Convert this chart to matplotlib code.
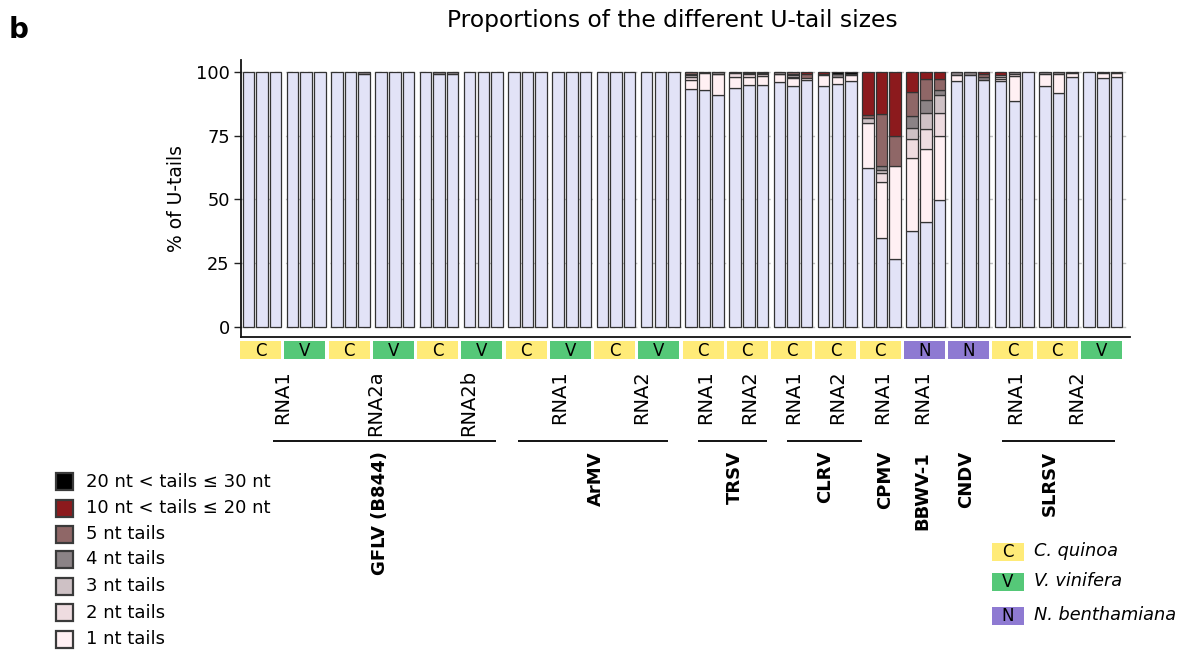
import matplotlib
matplotlib.use('Agg')
import matplotlib.pyplot as plt
import matplotlib.transforms as mtransforms
from matplotlib.patches import Rectangle
import numpy as np

plt.rcParams['font.family'] = ['DejaVu Sans']

# ---------------- data ----------------
title = 'Proportions of the different U-tail sizes'
ylabel = '% of U-tails'
yticks = [0, 25, 50, 75, 100]

# one entry per sample group (3 replicate bars per group)
hosts = ['C', 'V', 'C', 'V', 'C', 'V', 'C', 'V', 'C', 'V',
         'C', 'C', 'C', 'C', 'C', 'N', 'N', 'C', 'C', 'V']

series_names = ['0 nt', '1 nt tails', '2 nt tails', '3 nt tails', '4 nt tails',
                '5 nt tails', '10 nt < tails \u2264 20 nt', '20 nt < tails \u2264 30 nt']

u0 = [100, 100, 100,  100, 100, 100,  100, 100, 99.3,  100, 100, 100,
      100, 99.5, 99.2,  100, 100, 100,  100, 100, 100,  100, 100, 100,
      100, 100, 100,  100, 100, 100,  93.4, 93.0, 91.0,  93.7, 95.0, 95.0,
      96.4, 94.7, 97.1,  94.5, 95.4, 96.8,  62.5, 34.8, 26.6,  37.5, 41.2, 49.7,
      96.8, 98.9, 97.1,  96.8, 88.8, 100,  94.5, 92.1, 98.4,  100, 97.9, 98.2]
u1 = [0, 0, 0,  0, 0, 0,  0, 0, 0,  0, 0, 0,
      0, 0, 0,  0, 0, 0,  0, 0, 0,  0, 0, 0,
      0, 0, 0,  0, 0, 0,  3.7, 6.8, 8.3,  4.7, 3.4, 3.7,
      2.8, 3.2, 0.9,  4.5, 2.8, 2.1,  17.5, 22.1, 36.6,  28.7, 28.8, 25.3,
      2.1, 0, 0,  0.8, 9.9, 0,  4.7, 7.1, 1.3,  0, 1.8, 1.6]
u2 = [0, 0, 0,  0, 0, 0,  0, 0, 0,  0, 0, 0,
      0, 0, 0,  0, 0, 0,  0, 0, 0,  0, 0, 0,
      0, 0, 0,  0, 0, 0,  1.3, 0.2, 0.2,  1.2, 0.8, 0.7,
      0.3, 0.5, 0,  0.5, 0, 0,  0, 3.6, 0,  7.6, 7.9, 9.2,
      0, 0, 0,  0.8, 0.7, 0,  0, 0, 0,  0, 0, 0]
u3 = [0, 0, 0,  0, 0, 0,  0, 0, 0,  0, 0, 0,
      0, 0, 0,  0, 0, 0,  0, 0, 0,  0, 0, 0,
      0, 0, 0,  0, 0, 0,  0.6, 0, 0,  0, 0, 0,
      0, 0.5, 0,  0, 0, 0,  2.1, 1.0, 0,  4.2, 6.1, 7.1,
      0, 0, 0,  0.6, 0, 0,  0, 0, 0,  0, 0, 0]
u4 = [0, 0, 0,  0, 0, 0,  0, 0, 0.7,  0, 0, 0,
      0, 0.5, 0.8,  0, 0, 0,  0, 0, 0,  0, 0, 0,
      0, 0, 0,  0, 0, 0,  0.5, 0, 0.5,  0.4, 0.4, 0.3,
      0.5, 0.5, 0,  0, 1.0, 0.5,  0, 1.6, 0,  4.7, 5.0, 1.8,
      1.1, 1.1, 1.3,  0, 0.6, 0,  0.8, 0.8, 0.3,  0, 0.3, 0.2]
u5 = [0, 0, 0,  0, 0, 0,  0, 0, 0,  0, 0, 0,
      0, 0, 0,  0, 0, 0,  0, 0, 0,  0, 0, 0,
      0, 0, 0,  0, 0, 0,  0.5, 0, 0,  0, 0.4, 0.3,
      0, 0.6, 1.2,  0, 0, 0,  1.1, 20.7, 11.8,  9.7, 8.4, 4.5,
      0, 0, 1.0,  0, 0, 0,  0, 0, 0,  0, 0, 0]
u10 = [0, 0, 0,  0, 0, 0,  0, 0, 0,  0, 0, 0,
       0, 0, 0,  0, 0, 0,  0, 0, 0,  0, 0, 0,
       0, 0, 0,  0, 0, 0,  0, 0, 0,  0, 0, 0,
       0, 0, 0.8,  0.5, 0, 0,  16.8, 16.2, 25.0,  7.6, 2.6, 2.4,
       0, 0, 0.6,  1.0, 0, 0,  0, 0, 0,  0, 0, 0]
u20 = [0, 0, 0,  0, 0, 0,  0, 0, 0,  0, 0, 0,
       0, 0, 0,  0, 0, 0,  0, 0, 0,  0, 0, 0,
       0, 0, 0,  0, 0, 0,  0, 0, 0,  0, 0, 0,
       0, 0, 0,  0, 0.8, 0.6,  0, 0, 0,  0, 0, 0,
       0, 0, 0,  0, 0, 0,  0, 0, 0,  0, 0, 0]

# RNA segment labels: (text, group position)
rna_labels = [('RNA1', 0.5), ('RNA2a', 2.6), ('RNA2b', 4.7),
              ('RNA1', 6.75), ('RNA2', 8.6),
              ('RNA1', 10.05), ('RNA2', 11.05),
              ('RNA1', 12.05), ('RNA2', 13.05),
              ('RNA1', 14.05), ('RNA1', 14.95),
              ('RNA1', 17.05), ('RNA2', 18.45)]
# virus names: (text, group position)
virus_labels = [('GFLV (B844)', 2.7), ('ArMV', 7.58), ('TRSV', 10.71), ('CLRV', 12.75),
                ('CPMV', 14.11), ('BBWV-1', 14.96), ('CNDV', 15.94), ('SLRSV', 17.84)]
# bracket lines under RNA labels: (start, end) in group units
virus_lines = [(0.28, 5.33), (5.82, 9.2), (9.89, 11.44), (11.9, 13.59), (16.75, 19.3)]

host_names = {'C': 'C. quinoa', 'V': 'V. vinifera', 'N': 'N. benthamiana'}

# ---------------- styles ----------------
series_colors = ['#E2E3F7', '#FFF0F3', '#EEDCE0', '#CEC1C5', '#8B8386',
                 '#8F6767', '#8C1A1D', '#000000']
host_colors = {'C': '#FFEB78', 'V': '#55C878', 'N': '#8E7AD2'}

W, H = 1185, 650
fig = plt.figure(figsize=(W / 100, H / 100), dpi=100)

ov = fig.add_axes([0, 0, 1, 1])
ov.set_xlim(0, W)
ov.set_ylim(H, 0)
ov.axis('off')

ax = fig.add_axes([240.7 / W, 1 - 336.7 / H, (1130 - 240.7) / W, (336.7 - 60) / H])

n_groups = len(hosts)
offsets = np.array([-0.276, 0.034, 0.339])
x = (np.repeat(np.arange(n_groups), 3) + np.tile(offsets, n_groups))
bar_w = 0.26

series = [u0, u1, u2, u3, u4, u5, u10, u20]
bottom = np.zeros(len(x))
for vals, col in zip(series, series_colors):
    v = np.asarray(vals, dtype=float)
    m = v > 0
    ax.bar(x[m], v[m], bottom=bottom[m], width=bar_w, color=col,
           edgecolor='#333333', linewidth=0.9, zorder=3)
    bottom += v

ax.set_xlim(-0.447, 19.645)
ax.set_ylim(-4.0, 104.9)
ax.set_yticks(yticks)
ax.set_yticklabels([str(t) for t in yticks], fontsize=12.8)
ax.tick_params(axis='y', length=4.7, width=1.0, pad=3.2, color='#222222')
ax.tick_params(axis='x', bottom=False, labelbottom=False)
ax.yaxis.grid(True, color='#C0C0C0', linestyle=(0, (5, 3)), linewidth=1.0, zorder=0)
ax.set_axisbelow(True)
for s in ['top', 'right']:
    ax.spines[s].set_visible(False)
for s in ['left', 'bottom']:
    ax.spines[s].set_linewidth(1.3)
    ax.spines[s].set_color('#111111')

# ---------------- annotations under the axis ----------------
blend = mtransforms.blended_transform_factory(ax.transData, ov.transData)
box_half = 0.463
for g, h in enumerate(hosts):
    ov.add_patch(Rectangle((g - box_half, 341), 2 * box_half, 18, transform=blend,
                           facecolor=host_colors[h], edgecolor='none', clip_on=False))
    ov.text(g, 350.5, h, transform=blend, ha='center', va='center', fontsize=12,
            clip_on=False)

for txt, pos in rna_labels:
    ov.text(pos, 370, txt, transform=blend, rotation=90, ha='center', va='top',
            fontsize=14, clip_on=False)

for x0, x1 in virus_lines:
    ov.plot([x0, x1], [441, 441], transform=blend, color='black', lw=1.3,
            clip_on=False, solid_capstyle='butt')

for txt, pos in virus_labels:
    ov.text(pos, 451, txt, transform=blend, rotation=90, ha='center', va='top',
            fontsize=13, fontweight='bold', clip_on=False)

# ---------------- title / labels ----------------
ov.text(672, 21, title, ha='center', va='center', fontsize=16.8)
ov.text(9, 38, 'b', ha='left', va='baseline', fontsize=20, fontweight='bold')
ov.text(176.5, 198, ylabel, rotation=90, ha='center', va='center', fontsize=13.5)

# ---------------- tail-size legend ----------------
leg_rows_y = [481.7, 508, 534, 559.5, 586, 612.5, 639]
leg_order = list(range(len(series_names) - 1, 0, -1))   # 20-30 nt at top, 1 nt at bottom
for yc, idx in zip(leg_rows_y, leg_order):
    ov.add_patch(Rectangle((55.5, yc - 8.5), 17, 17, facecolor=series_colors[idx],
                           edgecolor='#3a3a3a', linewidth=1.6))
    ov.text(86, yc, series_names[idx], ha='left', va='center', fontsize=13)

# ---------------- host legend ----------------
host_rows_y = [552, 582, 616]
for yc, h in zip(host_rows_y, ['C', 'V', 'N']):
    ov.add_patch(Rectangle((991.7, yc - 9), 32.6, 18, facecolor=host_colors[h],
                           edgecolor='none'))
    ov.text(1008, yc, h, ha='center', va='center', fontsize=12)
    ov.text(1034, yc - 1, host_names[h], ha='left', va='center', fontsize=12.8,
            style='italic')

fig.savefig('out.png', dpi=100)
